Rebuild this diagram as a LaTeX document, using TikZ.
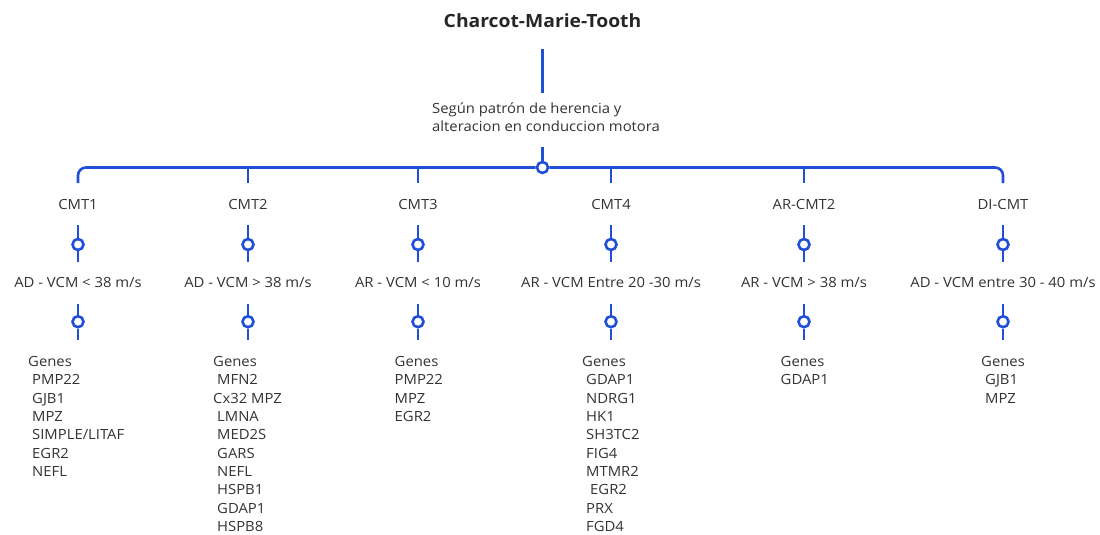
\documentclass[tikz,border=0pt]{standalone}
\usepackage{fontspec}
\setmainfont{Open Sans}[FakeStretch=1.06]
\definecolor{cblue}{HTML}{1F4FD8}
\definecolor{ctext}{HTML}{333333}
\begin{document}
\begin{tikzpicture}[x=1pt,y=-1pt,
  txt/.style={font=\fontsize{14}{18.6}\selectfont, text=ctext, inner sep=0pt, text height=10pt, text depth=0pt, anchor=base},
  genes/.style={font=\fontsize{14}{18.35}\selectfont, text=ctext, inner sep=0pt, align=left, anchor=north west},
  bline/.style={draw=cblue, line width=2.6pt},
  knob/.style={circle, draw=cblue, line width=2.6pt, fill=white, minimum size=11pt, inner sep=0pt},
]
\useasboundingbox[fill=white] (0,0) rectangle (1100,535);
% title and subtitle
\node[txt, font=\bfseries\fontsize{18.2}{20}\selectfont, text=black!85] (title) at (542.5,28) {Charcot-Marie-Tooth};
\node[genes, font=\fontsize{14}{18.5}\selectfont] (sub) at (432,102.5) {Según patrón de herencia y\\alteracion en conduccion motora};
\node[knob] (hub) at (542.5,167.5) {};
\coordinate (hubtop) at (542.5,146.7);
\draw[bline, shorten <=21pt, shorten >=10pt] (title.south) -- (sub.north -| title.south);
\draw[bline] (hubtop) -- (hub.north);
% columns
\foreach \i/\x in {1/78,2/248,3/418,4/611,5/804,6/1003}{
  \coordinate (b\i) at (\x,183);
  \coordinate (e\i) at (\x,340);
  \node[knob] (ka\i) at (\x,244.5) {};
  \node[knob] (kb\i) at (\x,321.7) {};
}
\node[txt] (c1) at (78,209.5) {CMT1};
\node[txt] (c2) at (248,209.5) {CMT2};
\node[txt] (c3) at (418,209.5) {CMT3};
\node[txt] (c4) at (611,209.5) {CMT4};
\node[txt] (c5) at (804,209.5) {AR-CMT2};
\node[txt] (c6) at (1003,209.5) {DI-CMT};
\node[txt] (v1) at (78,287) {AD - VCM < 38 m/s};
\node[txt] (v2) at (248,287) {AD - VCM > 38 m/s};
\node[txt] (v3) at (418,287) {AR - VCM < 10 m/s};
\node[txt] (v4) at (611,287) {AR - VCM Entre 20 -30 m/s};
\node[txt] (v5) at (804,287) {AR - VCM > 38 m/s};
\node[txt] (v6) at (1003,287) {AD - VCM entre 30 - 40 m/s};
% bus
\draw[bline, rounded corners=8pt] (hub.west) -| (b1);
\draw[bline, rounded corners=8pt] (hub.east) -| (b6);
\foreach \i in {2,3,4,5}{
  \draw[bline] (b\i |- hub) -- (b\i);
}
\foreach \i in {1,...,6}{
  \draw[bline, shorten <=15.5pt] (c\i.south) -- (ka\i.north);
  \draw[bline, shorten >=15.3pt] (ka\i.south) -- (v\i.north);
  \draw[bline, shorten <=16.3pt] (v\i.south) -- (kb\i.north);
  \draw[bline] (kb\i.south) -- (e\i);
}
% gene lists
\node[genes] (g1) at (28,356) {Genes\\\hspace*{4pt}PMP22\\\hspace*{4pt}GJB1\\\hspace*{4pt}MPZ\\\hspace*{4pt}SIMPLE/LITAF\\\hspace*{4pt}EGR2\\\hspace*{4pt}NEFL};
\node[genes] (g2) at (213,356) {Genes\\\hspace*{4pt}MFN2\\Cx32 MPZ\\\hspace*{4pt}LMNA\\\hspace*{4pt}MED2S\\\hspace*{4pt}GARS\\\hspace*{4pt}NEFL\\\hspace*{4pt}HSPB1\\\hspace*{4pt}GDAP1\\\hspace*{4pt}HSPB8};
\node[genes] (g3) at (394.5,356) {Genes\\PMP22\\MPZ\\EGR2};
\node[genes] (g4) at (582,356) {Genes\\\hspace*{4pt}GDAP1\\\hspace*{4pt}NDRG1\\\hspace*{4pt}HK1\\\hspace*{4pt}SH3TC2\\\hspace*{4pt}FIG4\\\hspace*{4pt}MTMR2\\\hspace*{8pt}EGR2\\\hspace*{4pt}PRX\\\hspace*{4pt}FGD4};
\node[genes] (g5) at (780.5,356) {Genes\\GDAP1};
\node[genes] (g6) at (981,356) {Genes\\\hspace*{4pt}GJB1\\\hspace*{4pt}MPZ};
\end{tikzpicture}
\end{document}
